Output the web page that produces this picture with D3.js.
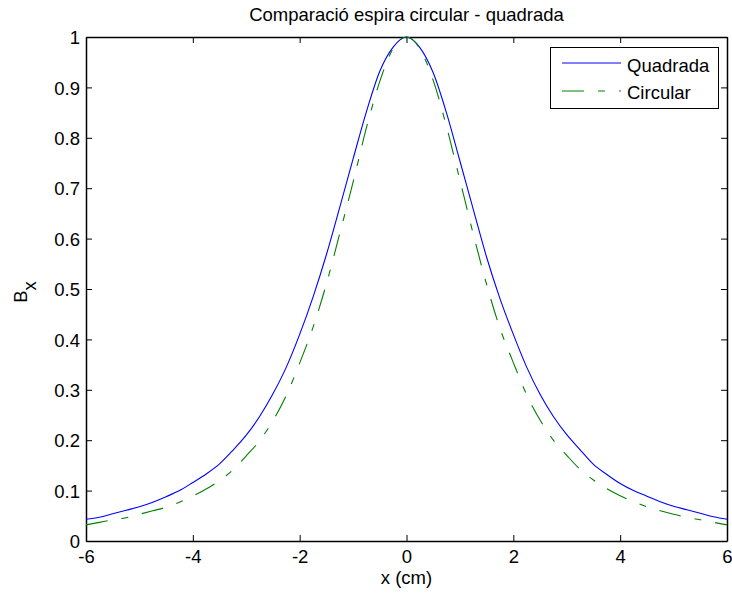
<!DOCTYPE html>
<html>
<head>
<meta charset="utf-8">
<script src="https://cdn.jsdelivr.net/npm/d3@7"></script>
<style>
  html, body { margin: 0; padding: 0; background: #fff; }
  svg { display: block; font-family: "Liberation Sans", Arial, sans-serif; }
</style>
</head>
<body>
<svg id="chart" width="732" height="596"></svg>
<script>
// Position along the axis (cm)
const xValues = [-6, -5.75, -5.5, -5.25, -5, -4.75, -4.5, -4.25, -4, -3.75, -3.5, -3.25, -3,
  -2.75, -2.5, -2.25, -2, -1.75, -1.5, -1.25, -1, -0.75, -0.5, -0.25, 0,
  0.25, 0.5, 0.75, 1, 1.25, 1.5, 1.75, 2, 2.25, 2.5, 2.75, 3, 3.25, 3.5, 3.75,
  4, 4.25, 4.5, 4.75, 5, 5.25, 5.5, 5.75, 6];

// Normalised Bx, square loop
const quadrada = [0.043, 0.047, 0.054, 0.061, 0.068, 0.077, 0.088, 0.100, 0.116, 0.133, 0.153, 0.180, 0.210,
  0.247, 0.292, 0.345, 0.410, 0.484, 0.568, 0.662, 0.758, 0.852, 0.932, 0.980, 1.000,
  0.979, 0.929, 0.849, 0.754, 0.658, 0.563, 0.481, 0.410, 0.345, 0.291, 0.247, 0.211, 0.181, 0.152, 0.132,
  0.114, 0.100, 0.089, 0.078, 0.069, 0.062, 0.055, 0.048, 0.043];

// Normalised Bx, circular loop
const circular = [0.032, 0.037, 0.042, 0.046, 0.053, 0.060, 0.067, 0.077, 0.089, 0.103, 0.120, 0.141, 0.169,
  0.199, 0.239, 0.289, 0.353, 0.424, 0.510, 0.610, 0.712, 0.820, 0.912, 0.977, 1.000,
  0.977, 0.914, 0.822, 0.716, 0.609, 0.509, 0.422, 0.354, 0.290, 0.240, 0.200, 0.170, 0.142, 0.121, 0.104,
  0.090, 0.078, 0.068, 0.060, 0.053, 0.047, 0.042, 0.037, 0.032];

const xTicks = [-6, -4, -2, 0, 2, 4, 6];
const xTickLabels = ["-6", "-4", "-2", "0", "2", "4", "6"];
const yTicks = [0, 0.1, 0.2, 0.3, 0.4, 0.5, 0.6, 0.7, 0.8, 0.9, 1];
const yTickLabels = ["0", "0.1", "0.2", "0.3", "0.4", "0.5", "0.6", "0.7", "0.8", "0.9", "1"];

const titleText = "Comparació espira circular - quadrada";
const xLabel = "x (cm)";
const seriesNames = ["Quadrada", "Circular"];

const svg = d3.select("#chart");
const fontSize = 18.5;
const plotLeft = 86, plotRight = 727, plotTop = 37, plotBottom = 541;

const x = d3.scaleLinear().domain([-6, 6]).range([plotLeft, plotRight]);
const y = d3.scaleLinear().domain([0, 1]).range([plotBottom, plotTop]);

// Axes: labelled bottom/left, tick-only top/right
const tickLen = 6;
const fmtX = d => xTickLabels[xTicks.indexOf(d)];
const fmtY = d => yTickLabels[yTicks.indexOf(d)];

const gx = svg.append("g").attr("transform", `translate(0,${plotBottom})`)
  .call(d3.axisBottom(x).tickValues(xTicks).tickSizeInner(-tickLen).tickSizeOuter(0).tickPadding(9).tickFormat(fmtX));
const gy = svg.append("g").attr("transform", `translate(${plotLeft},0)`)
  .call(d3.axisLeft(y).tickValues(yTicks).tickSizeInner(-tickLen).tickSizeOuter(0).tickPadding(6).tickFormat(fmtY));
const gxt = svg.append("g").attr("transform", `translate(0,${plotTop})`)
  .call(d3.axisTop(x).tickValues(xTicks).tickSizeInner(-tickLen).tickSizeOuter(0).tickFormat(""));
const gyr = svg.append("g").attr("transform", `translate(${plotRight},0)`)
  .call(d3.axisRight(y).tickValues(yTicks).tickSizeInner(-tickLen).tickSizeOuter(0).tickFormat(""));

[gx, gy, gxt, gyr].forEach(g => {
  g.selectAll("path.domain").attr("stroke", "#000").attr("stroke-width", 1.5);
  g.selectAll(".tick line").attr("stroke", "#000").attr("stroke-width", 1);
  g.selectAll(".tick text").attr("fill", "#000")
    .style("font-size", fontSize + "px").style("font-family", "Liberation Sans, Arial, sans-serif");
});
gy.selectAll(".tick text").attr("dy", "0.36em");

// Curves
const rows = xValues.map((v, i) => ({ x: v, q: quadrada[i], c: circular[i] }));
const plot = svg.append("g");
const dashPattern = "22,14,7,14";

plot.append("path")
  .datum(rows)
  .attr("fill", "none")
  .attr("stroke", "#0000ff")
  .attr("stroke-width", 1.1)
  .attr("d", d3.line().curve(d3.curveMonotoneX).x(d => x(d.x)).y(d => y(d.q)));

plot.append("path")
  .datum(rows)
  .attr("fill", "none")
  .attr("stroke", "#008000")
  .attr("stroke-width", 1.1)
  .attr("stroke-dasharray", dashPattern)
  .attr("d", d3.line().curve(d3.curveMonotoneX).x(d => x(d.x)).y(d => y(d.c)));

// Title and axis labels
svg.append("text")
  .attr("x", (plotLeft + plotRight) / 2).attr("y", 21)
  .attr("text-anchor", "middle")
  .style("font-size", fontSize + "px")
  .text(titleText);

svg.append("text")
  .attr("x", (plotLeft + plotRight) / 2).attr("y", 584)
  .attr("text-anchor", "middle")
  .style("font-size", fontSize + "px")
  .text(xLabel);

const yl = svg.append("text")
  .attr("transform", "translate(27,292) rotate(-90)")
  .attr("text-anchor", "middle")
  .style("font-size", fontSize + "px");
yl.append("tspan").text("B");
yl.append("tspan").attr("dy", 9).text("x");

// Legend
const legend = svg.append("g");
legend.append("rect")
  .attr("x", 550.5).attr("y", 47.5).attr("width", 168).attr("height", 61)
  .attr("fill", "#fff").attr("stroke", "#000").attr("stroke-width", 1);

const legendRows = [
  { name: seriesNames[0], color: "#0000ff", dash: null, ly: 63, ty: 71.5 },
  { name: seriesNames[1], color: "#008000", dash: dashPattern, ly: 91, ty: 98.5 }
];
legendRows.forEach(r => {
  legend.append("line")
    .attr("x1", 562).attr("x2", 621).attr("y1", r.ly).attr("y2", r.ly)
    .attr("stroke", r.color).attr("stroke-width", 1.1)
    .attr("stroke-dasharray", r.dash);
  legend.append("text")
    .attr("x", 627).attr("y", r.ty)
    .style("font-size", fontSize + "px")
    .text(r.name);
});
</script>
</body>
</html>
